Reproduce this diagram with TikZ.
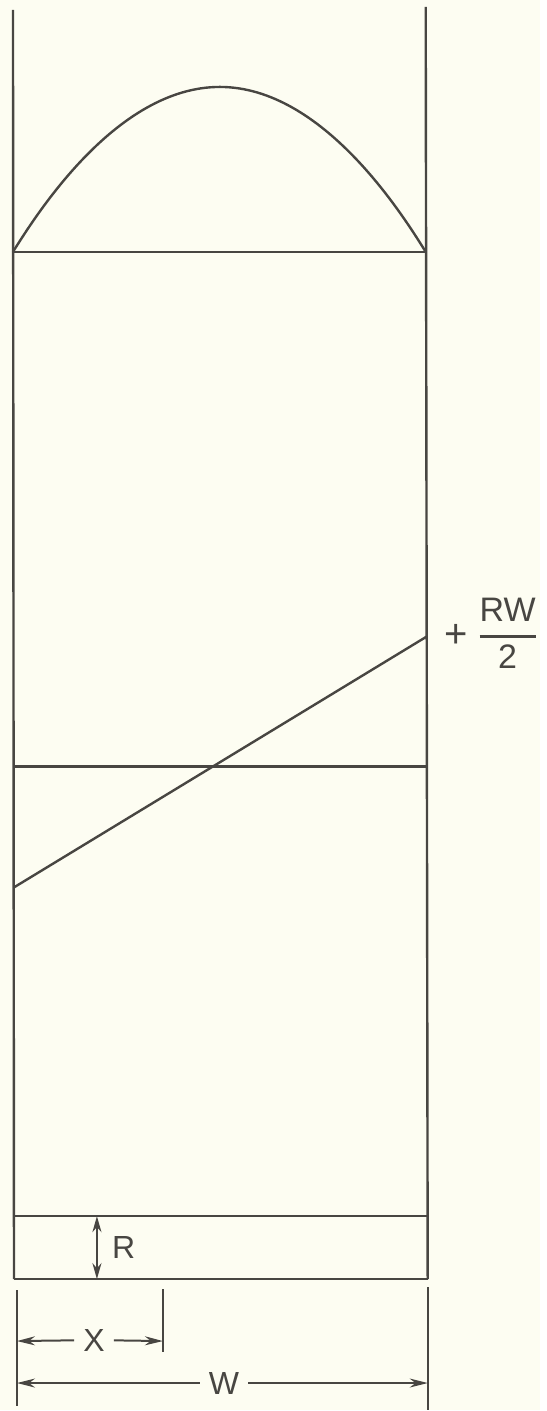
\documentclass[tikz,border=0pt]{standalone}
\usepackage{amsmath}
\usepackage{fontspec}
\setmainfont{Liberation Sans}
\usetikzlibrary{arrows.meta}
\definecolor{ink}{RGB}{72,70,66}
\definecolor{paper}{RGB}{253,253,242}

\begin{document}
\begin{tikzpicture}[x=0.5pt, y=-0.5pt, line width=1.2pt, ink,
        font=\fontsize{16}{19}\selectfont,
        dim/.style={line width=1pt},
        tip/.style={dim, -{Stealth[length=9pt, width=4.5pt]}},
        twotip/.style={dim, {Stealth[length=8pt, width=4.5pt]}-{Stealth[length=8pt, width=4.5pt]}},
        lbl/.style={inner sep=4pt}]
        % The sheet
        \fill[paper] (0,0) rectangle (540,1411);

        % The two walls
        \coordinate (TL) at (13,10);
        \coordinate (TR) at (426,7);
        \coordinate (BL) at (14,1280);
        \coordinate (BR) at (428,1280);
        \draw (TL) -- (BL);
        \draw (TR) -- (BR);

        % The parabola
        \coordinate (PL) at (13,252);
        \coordinate (PR) at (426,252);
        \coordinate (PT) at (220,87);
        \draw (PL) -- (PR);
        \draw (PL) parabola bend (PT) (PR);

        % Middle line and the sloped line
        \coordinate (ML) at (14,767);
        \coordinate (MR) at (427,767);
        \draw (ML) -- (MR);
        \coordinate (SL) at (14,888);
        \coordinate (SR) at (427,637);
        \draw (SL) -- (SR);
        \node[lbl] (plus) at (456,636) {\fontsize{20}{22}\selectfont +};
        \node[lbl] (rw) at (508,634) {\fontsize{17}{20}\selectfont$\genfrac{}{}{1.1pt}{0}{\text{RW}}{\text{2}}$};

        % The bottom strip
        \coordinate (SBL) at (14,1217);
        \coordinate (SBR) at (428,1217);
        \draw (SBL) -- (SBR);
        \draw (BL) -- (BR);
        \coordinate (Rt) at (97,1217);
        \coordinate (Rb) at (97,1280);
        \draw[twotip] (Rt) -- (Rb);
        \node[lbl, anchor=west] (R) at (103,1248) {R};

        % Dimensions X and W
        \coordinate (E0a) at (17,1291);
        \coordinate (E0b) at (17,1407);
        \coordinate (EXa) at (163,1290);
        \coordinate (EXb) at (163,1353);
        \coordinate (EWa) at (428,1288);
        \coordinate (EWb) at (428,1411);
        \draw[dim] (E0a) -- (E0b);
        \draw[dim] (EXa) -- (EXb);
        \draw[dim] (EWa) -- (EWb);

        \node[lbl] (X) at (94,1341) {X};
        \coordinate (X0) at (17,1342);
        \coordinate (X1) at (163,1342);
        \draw[tip] (X) -- (X0);
        \draw[tip] (X) -- (X1);

        \node[lbl] (W) at (224,1384) {W};
        \coordinate (W0) at (17,1384);
        \coordinate (W1) at (428,1384);
        \draw[tip] (W) -- (W0);
        \draw[tip] (W) -- (W1);
\end{tikzpicture}
\end{document}
